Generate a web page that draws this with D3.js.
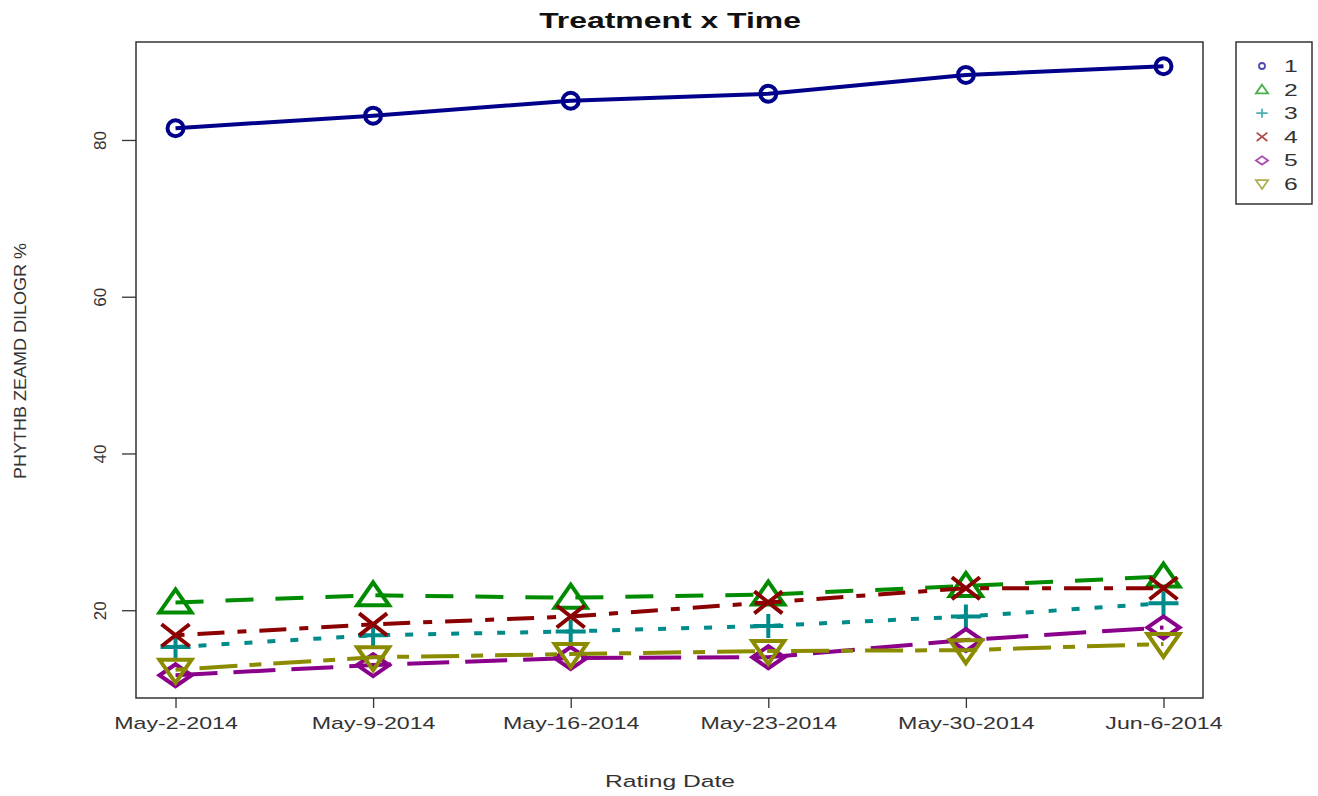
<!DOCTYPE html>
<html>
<head>
<meta charset="utf-8">
<script src="https://cdn.jsdelivr.net/npm/d3@7"></script>
<style>
  body { margin: 0; background: #fff; }
  text { font-family: "Liberation Sans", Arial, sans-serif; fill: #333; }
</style>
</head>
<body>
<svg width="1318" height="796"></svg>
<script>
// rating dates and treatment means
var dates = ["2014-05-02", "2014-05-09", "2014-05-16", "2014-05-23", "2014-05-30", "2014-06-06"];
var trt1 = [81.5, 83.1, 85.0, 85.9, 88.3, 89.4];
var trt2 = [21.0, 21.9, 21.6, 22.0, 23.1, 24.3];
var trt3 = [15.3, 16.8, 17.3, 18.0, 19.2, 20.9];
var trt4 = [16.8, 18.2, 19.2, 21.0, 22.8, 22.8];
var trt5 = [11.7, 13.0, 13.9, 14.0, 16.2, 17.8];
var trt6 = [12.4, 14.0, 14.4, 14.8, 14.9, 15.7];
var yTicks = [20, 40, 60, 80];
var labels = ["1", "2", "3", "4", "5", "6"];

var colors = ["#00008B", "#008B00", "#008B8B", "#8B0000", "#8B008B", "#8B8B00"];
var dashes = [null, "28,22", "8,15", "9,13,27,13", "42,16", "12,12,38,12"];
var shapes = ["circle", "triUp", "plus", "cross", "diamond", "triDown"];

var parse = d3.timeParse("%Y-%m-%d");
var fmt = d3.timeFormat("%b-%-d-%Y");
var series = [trt1, trt2, trt3, trt4, trt5, trt6].map(function(vals, i) {
  return { name: labels[i], values: vals.map(function(v, j) { return { date: parse(dates[j]), value: v }; }) };
});

var svg = d3.select("svg");
var plotL = 136, plotR = 1203, plotT = 42, plotB = 698;
var sx = 1.45; // horizontal stretch of the text in the picture

var first = parse(dates[0]), last = parse(dates[dates.length - 1]);
var pad = (last - first) * 0.04;
var x = d3.scaleTime()
    .domain([new Date(+first - pad), new Date(+last + pad)])
    .range([plotL, plotR]);
var y = d3.scaleLinear()
    .domain([8.8, 92.5])
    .range([plotB, plotT]);

// marker shapes, wider than tall like the stretched original
function markerPath(shape, s) {
  var w = 16 * s, h = 12 * s;
  switch (shape) {
    case "circle":
      return "M" + (-10 * s) + ",0A" + (10 * s) + "," + (10 * s) + " 0 1,0 " + (10 * s) + ",0A" + (10 * s) + "," + (10 * s) + " 0 1,0 " + (-10 * s) + ",0Z";
    case "triUp":
      return "M0," + (-13 * s) + "L" + w + "," + (10 * s) + "L" + (-w) + "," + (10 * s) + "Z";
    case "triDown":
      return "M0," + (13 * s) + "L" + w + "," + (-10 * s) + "L" + (-w) + "," + (-10 * s) + "Z";
    case "plus":
      return "M" + (-15 * s) + ",0H" + (15 * s) + "M0," + (-h) + "V" + h;
    case "cross":
      return "M" + (-14 * s) + "," + (-11 * s) + "L" + (14 * s) + "," + (11 * s) + "M" + (-14 * s) + "," + (11 * s) + "L" + (14 * s) + "," + (-11 * s);
    case "diamond":
      return "M0," + (-11 * s) + "L" + w + ",0L0," + (11 * s) + "L" + (-w) + ",0Z";
  }
}

// axes
var xAxis = svg.append("g")
    .attr("transform", "translate(0," + plotB + ")")
    .call(d3.axisBottom(x)
      .tickValues(dates.map(parse))
      .tickFormat(fmt)
      .tickSize(10)
      .tickSizeOuter(0));
xAxis.select(".domain").remove();
xAxis.selectAll("line").attr("stroke", "#333").attr("stroke-width", 1.3);
xAxis.selectAll("text")
    .attr("dy", null)
    .attr("y", 31)
    .attr("transform", "scale(" + sx + ",1)")
    .style("font-size", "16px");

var yAxis = svg.append("g")
    .attr("transform", "translate(" + plotL + ",0)")
    .call(d3.axisLeft(y)
      .tickValues(yTicks)
      .tickSize(14)
      .tickSizeOuter(0));
yAxis.select(".domain").remove();
yAxis.selectAll("line").attr("stroke", "#333").attr("stroke-width", 1.3);
yAxis.selectAll("text")
    .attr("x", null).attr("dy", null)
    .attr("text-anchor", "middle")
    .attr("transform", "translate(-36,0) rotate(-90)")
    .attr("y", 6)
    .style("font-size", "17px");

// plot frame
svg.append("rect")
    .attr("x", plotL).attr("y", plotT)
    .attr("width", plotR - plotL).attr("height", plotB - plotT)
    .attr("fill", "none").attr("stroke", "#333").attr("stroke-width", 1.5);

// lines
var line = d3.line()
    .x(function(d) { return x(d.date); })
    .y(function(d) { return y(d.value); });

var g = svg.append("g").selectAll("g")
  .data(series)
  .enter().append("g");

g.append("path")
    .attr("d", function(d) { return line(d.values); })
    .attr("fill", "none")
    .attr("stroke", function(d, i) { return colors[i]; })
    .attr("stroke-width", 4)
    .attr("stroke-dasharray", function(d, i) { return dashes[i]; });

g.each(function(s, i) {
  d3.select(this).selectAll(".pt")
    .data(s.values)
    .enter().append("path")
      .attr("class", "pt")
      .attr("transform", function(d) { return "translate(" + x(d.date) + "," + y(d.value) + ")"; })
      .attr("d", markerPath(shapes[i], i === 0 ? 0.8 : 1))
      .attr("fill", "none")
      .attr("stroke", colors[i])
      .attr("stroke-width", 4);
});

// title and axis labels
svg.append("text")
    .attr("transform", "translate(670,28) scale(" + sx + ",1)")
    .attr("text-anchor", "middle")
    .style("font-size", "22px")
    .style("font-weight", "bold")
    .style("fill", "#111")
    .text("Treatment x Time");

svg.append("text")
    .attr("transform", "translate(670,787) scale(" + sx + ",1)")
    .attr("text-anchor", "middle")
    .style("font-size", "17px")
    .text("Rating Date");

svg.append("text")
    .attr("transform", "translate(26,361) rotate(-90)")
    .attr("text-anchor", "middle")
    .attr("textLength", 236)
    .attr("lengthAdjust", "spacingAndGlyphs")
    .style("font-size", "17px")
    .text("PHYTHB ZEAMD DILOGR %");

// legend
var legend = svg.append("g");
legend.append("rect")
    .attr("x", 1236).attr("y", 42)
    .attr("width", 76).attr("height", 162)
    .attr("fill", "#fff").attr("stroke", "#333").attr("stroke-width", 1.5);

var item = legend.selectAll(".item")
  .data(labels)
  .enter().append("g")
    .attr("class", "item")
    .attr("transform", function(d, i) { return "translate(0," + (66 + i * 23.6) + ")"; });

item.append("path")
    .attr("transform", "translate(1262,0)")
    .attr("d", function(d, i) { return markerPath(shapes[i], i === 0 ? 0.3 : 0.38); })
    .attr("fill", "none")
    .attr("stroke", function(d, i) { return colors[i]; })
    .attr("stroke-opacity", 0.7)
    .attr("stroke-width", 1.8);

item.append("text")
    .attr("transform", "translate(1284,6) scale(" + sx + ",1)")
    .style("font-size", "17px")
    .text(function(d) { return d; });
</script>
</body>
</html>
